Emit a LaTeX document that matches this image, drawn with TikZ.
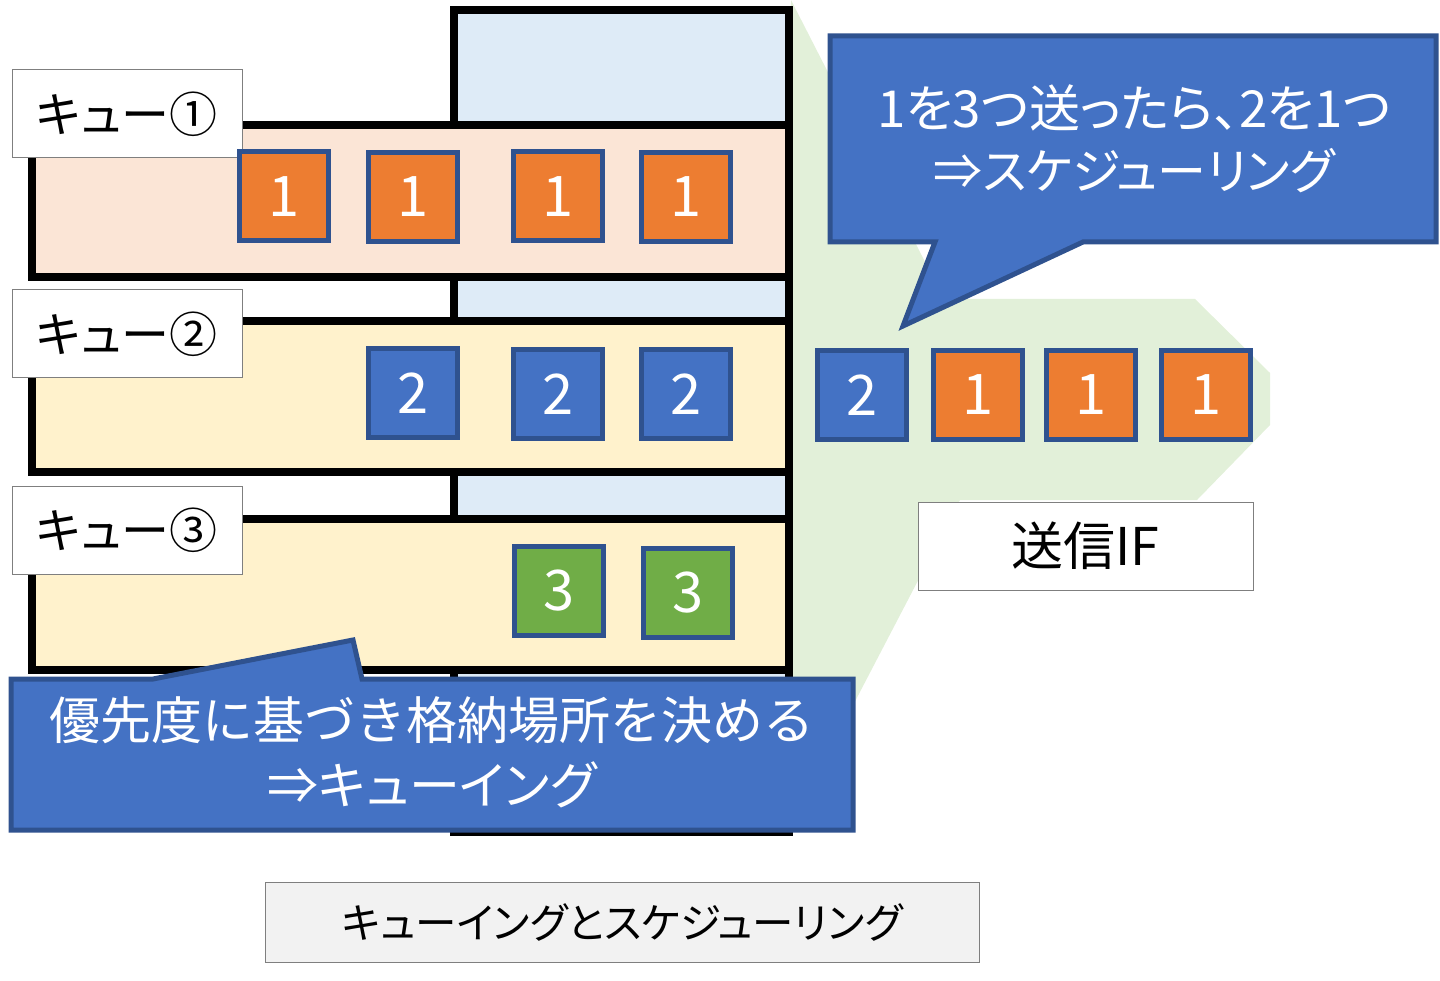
\documentclass[tikz,border=0pt]{standalone}
\usepackage{fontspec}
\setmainfont{Noto Sans CJK JP}
\newfontfamily\jpp[RawFeature=+palt]{Noto Sans CJK JP}
\definecolor{bggreen}{HTML}{E2F0D9}
\definecolor{lblue}{HTML}{DEEBF7}
\definecolor{peach}{HTML}{FBE5D6}
\definecolor{lyellow}{HTML}{FFF2CC}
\definecolor{mblue}{HTML}{4472C4}
\definecolor{dblue}{HTML}{2F528F}
\definecolor{morange}{HTML}{ED7D31}
\definecolor{mgreen}{HTML}{70AD47}
\definecolor{lgray}{HTML}{F2F2F2}
\definecolor{bgray}{HTML}{7F7F7F}
\tikzset{
  thick box/.style={draw=black, line width=8pt},
  pkt/.style={draw=dblue, line width=5pt, minimum size=89pt, inner sep=0pt, text=white, font=\fontsize{56}{60}\selectfont},
  pkt1/.style={pkt, fill=morange},
  pkt2/.style={pkt, fill=mblue},
  pkt3/.style={pkt, fill=mgreen},
  qlabel/.style={draw=bgray, fill=white, line width=1pt, minimum width=230pt, minimum height=88pt, inner sep=0pt, font=\jpp\fontsize{48}{52}\selectfont},
  callout/.style={draw=dblue, fill=mblue, line width=5pt, line join=miter},
  callouttext/.style={text=white, align=center, inner sep=0pt},
}
\begin{document}
\begin{tikzpicture}[x=1pt,y=-1pt]
\useasboundingbox (0,0) rectangle (1440,981);
% green funnel background
\fill[bggreen] (791,0) -- (944,299) -- (1195,299) -- (1270,373) -- (1270,425) -- (1197,500) -- (960,500) -- (788,830) -- cycle;
% tall box
\draw[thick box, fill=lblue] (454,10) rectangle (789,832);
% queue rows
\draw[thick box, fill=peach] (32,125) rectangle (789,277);
\draw[thick box, fill=lyellow] (32,321) rectangle (789,472);
\draw[thick box, fill=lyellow] (32,519) rectangle (789,670);
% labels
\node[qlabel] (q1) at (127,114) {キュー①};
\node[qlabel] (q2) at (127,334) {キュー②};
\node[qlabel] (q3) at (127,530) {キュー③};
% packets queue 1
\node[pkt1] (a1) at (284,196.5) {1};
\node[pkt1] (a2) at (413,197) {1};
\node[pkt1] (a3) at (558,196.5) {1};
\node[pkt1] (a4) at (686,197) {1};
% queue 2
\node[pkt2] (b1) at (413,393) {2};
\node[pkt2] (b2) at (558,394) {2};
\node[pkt2] (b3) at (686,394) {2};
% queue 3
\node[pkt3] (c1) at (559,590.5) {3};
\node[pkt3] (c2) at (688,592.5) {3};
% output
\node[pkt2] (o1) at (862,395) {2};
\node[pkt1] (o2) at (978,395) {1};
\node[pkt1] (o3) at (1091,395) {1};
\node[pkt1] (o4) at (1206,395) {1};
% IF box
\node[draw=bgray, fill=white, line width=1pt, minimum width=335pt, minimum height=88pt, inner sep=0pt, font=\fontsize{52}{56}\selectfont] (if) at (1085.5,546) {送信IF};
% top callout
\draw[callout] (830,36) -- (1436,36) -- (1436,242) -- (1083,242) -- (903,326) -- (935,242) -- (830,242) -- cycle;
\node[callouttext, font=\jpp\fontsize{51}{62}\selectfont] (sched) at (1134,139) {1を3つ送ったら、2を1つ\\{\fontsize{49}{62}\selectfont ⇒スケジューリング}};
% bottom callout
\draw[callout] (11,679) -- (153,679) -- (353,640) -- (362,679) -- (853,679) -- (853,830) -- (11,830) -- cycle;
\node[callouttext, font=\fontsize{51}{65}\selectfont] (queu) at (432,752) {優先度に基づき格納場所を決める\\{\jpp ⇒キューイング}};
% caption
\node[draw=bgray, fill=lgray, line width=1pt, minimum width=714pt, minimum height=80pt, inner sep=0pt, font=\jpp\fontsize{41.5}{46}\selectfont] (cap) at (622,922) {キューイングとスケジューリング};
\end{tikzpicture}
\end{document}
